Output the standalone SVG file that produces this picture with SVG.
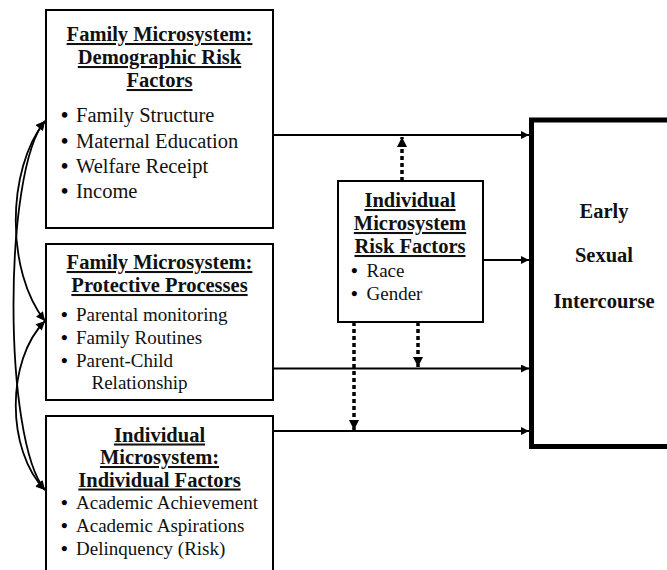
<svg xmlns="http://www.w3.org/2000/svg" width="667" height="570" viewBox="0 0 667 570">
<defs>
<style>
.box{fill:#fff;stroke:#000;stroke-width:2}
.big{fill:#fff;stroke:#000;stroke-width:5}
.t{font-family:"Liberation Serif","Times New Roman",serif;font-weight:bold;font-size:20.5px;text-anchor:middle;fill:#111;text-decoration:underline}
.h{font-family:"Liberation Serif","Times New Roman",serif;font-weight:bold;font-size:20.5px;text-anchor:middle;fill:#111}
.b{font-family:"Liberation Serif","Times New Roman",serif;font-size:19px;fill:#111}
.b2{font-family:"Liberation Serif","Times New Roman",serif;font-size:20.5px;fill:#111}
.bu{font-weight:bold;fill:#000}
.ln{fill:none;stroke:#000;stroke-width:2}
.dot{fill:none;stroke:#000;stroke-width:3.5;stroke-dasharray:4 3}
.cv{fill:none;stroke:#000;stroke-width:1.8}
</style>
<marker id="arr" viewBox="0 0 10 10" refX="10" refY="5" markerWidth="10" markerHeight="8" markerUnits="userSpaceOnUse" orient="auto"><path d="M0,0L10,5L0,10z" fill="#000"/></marker>
<marker id="darr" viewBox="0 0 10 10" refX="10" refY="5" markerWidth="10" markerHeight="11" markerUnits="userSpaceOnUse" orient="auto"><path d="M0,0L10,5L0,10z" fill="#000"/></marker>
<marker id="carr" viewBox="0 0 10 10" refX="10" refY="5" markerWidth="10" markerHeight="9" markerUnits="userSpaceOnUse" orient="auto-start-reverse"><path d="M0,0L10,5L0,10z" fill="#000"/></marker>
</defs>
<rect width="667" height="570" fill="#fff"/>

<g id="connectors">
<line class="ln" x1="273" y1="135" x2="529" y2="135" marker-end="url(#arr)"/>
<line class="ln" x1="483" y1="260" x2="529" y2="260" marker-end="url(#arr)"/>
<line class="ln" x1="273" y1="368.5" x2="529" y2="368.5" marker-end="url(#arr)"/>
<line class="ln" x1="273" y1="431" x2="529" y2="431" marker-end="url(#arr)"/>
<line class="dot" x1="402" y1="181" x2="402" y2="137" marker-end="url(#darr)"/>
<line class="dot" x1="418" y1="322" x2="418" y2="367" marker-end="url(#darr)"/>
<line class="dot" x1="354" y1="322" x2="354" y2="430" marker-end="url(#darr)"/>
<path class="cv" d="M45,121 C6,170 6,272 45,321" marker-start="url(#carr)" marker-end="url(#carr)"/>
<path class="cv" d="M45,321 C6,360 6,450 45,490" marker-start="url(#carr)" marker-end="url(#carr)"/>
<path class="cv" d="M45,121 C3,170 3,440 45,490" marker-start="url(#carr)" marker-end="url(#carr)"/>
</g>

<g id="family-demographic">
<rect class="box" x="46" y="10" width="227" height="218"/>
<text class="t" x="159.5" y="41">Family Microsystem:</text>
<text class="t" x="159.5" y="64">Demographic Risk</text>
<text class="t" x="159.5" y="87">Factors</text>
<text class="b2" x="61" y="122"><tspan class="bu">•</tspan><tspan x="76">Family Structure</tspan></text>
<text class="b2" x="61" y="147.5"><tspan class="bu">•</tspan><tspan x="76">Maternal Education</tspan></text>
<text class="b2" x="61" y="173"><tspan class="bu">•</tspan><tspan x="76">Welfare Receipt</tspan></text>
<text class="b2" x="61" y="198"><tspan class="bu">•</tspan><tspan x="76">Income</tspan></text>
</g>

<g id="family-protective">
<rect class="box" x="46" y="244" width="227" height="156"/>
<text class="t" x="159.5" y="269">Family Microsystem:</text>
<text class="t" x="159.5" y="292">Protective Processes</text>
<text class="b" x="61" y="320.5"><tspan class="bu">•</tspan><tspan x="76">Parental monitoring</tspan></text>
<text class="b" x="61" y="343.5"><tspan class="bu">•</tspan><tspan x="76">Family Routines</tspan></text>
<text class="b" x="61" y="366.5"><tspan class="bu">•</tspan><tspan x="76">Parent-Child</tspan></text>
<text class="b" x="91.5" y="388.5">Relationship</text>
</g>

<g id="individual-factors">
<rect class="box" x="46" y="416" width="227" height="170"/>
<text class="t" x="159.5" y="441.5">Individual</text>
<text class="t" x="159.5" y="464">Microsystem:</text>
<text class="t" x="159.5" y="486.5">Individual Factors</text>
<text class="b" x="61" y="509"><tspan class="bu">•</tspan><tspan x="76">Academic Achievement</tspan></text>
<text class="b" x="61" y="531.5"><tspan class="bu">•</tspan><tspan x="76">Academic Aspirations</tspan></text>
<text class="b" x="61" y="555"><tspan class="bu">•</tspan><tspan x="76">Delinquency (Risk)</tspan></text>
</g>

<g id="individual-risk">
<rect class="box" x="338" y="181" width="145" height="141"/>
<text class="t" x="410" y="207">Individual</text>
<text class="t" x="410" y="230">Microsystem</text>
<text class="t" x="410" y="253">Risk Factors</text>
<text class="b" x="351" y="276.5"><tspan class="bu">•</tspan><tspan x="366.5">Race</tspan></text>
<text class="b" x="351" y="300"><tspan class="bu">•</tspan><tspan x="366.5">Gender</tspan></text>
</g>

<g id="outcome">
<rect class="big" x="531.5" y="120" width="150" height="326.5"/>
<text class="h" x="604" y="218">Early</text>
<text class="h" x="604" y="262">Sexual</text>
<text class="h" x="604" y="308">Intercourse</text>
</g>
</svg>
